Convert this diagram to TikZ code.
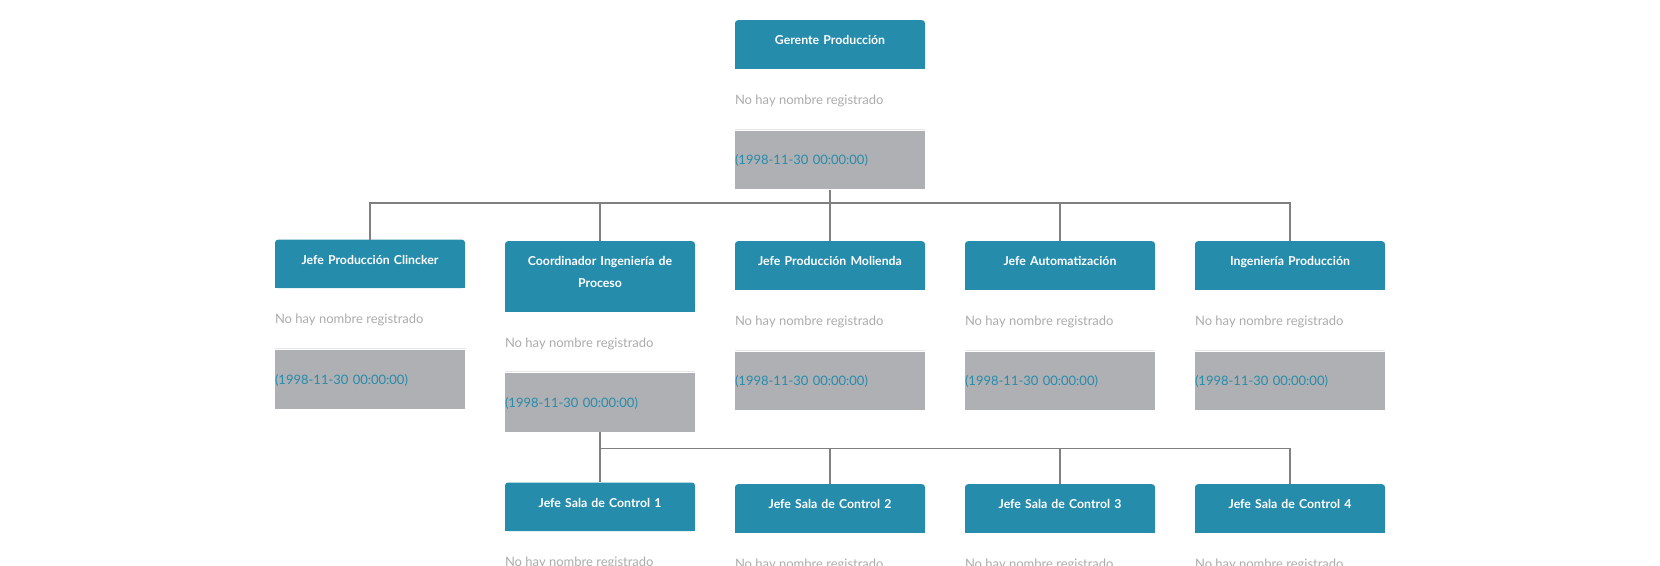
\documentclass[tikz,border=0pt]{standalone}
\usepackage{fontspec}
\setmainfont{Lato}
\usetikzlibrary{positioning}
\definecolor{azulcargo}{HTML}{268CAC}
\definecolor{grisfecha}{HTML}{AFB0B4}
\definecolor{grisnombre}{HTML}{ABABAB}
\definecolor{grislinea}{HTML}{808080}
\definecolor{grissep}{HTML}{E6E6E6}
\tikzset{
  cargo/.style={fill=azulcargo,text=white,rounded corners=3pt,font=\fontsize{12.3}{21.6}\selectfont\bfseries,
    text width=180pt,align=center,inner xsep=5pt,inner ysep=0pt,text height=24.5pt,text depth=24pt,anchor=north},
  nombre/.style={text=grisnombre,font=\fontsize{13}{15}\selectfont,inner sep=0pt,anchor=base west},
  fecha/.style={fill=grisfecha,text=azulcargo,font=\fontsize{13}{15}\selectfont,minimum height=58.7pt,
    text width=190pt,align=left,inner sep=0pt,text height=10pt,text depth=0.6pt,anchor=north},
  conector/.style={draw=grislinea,line width=1.5pt},
  sep/.style={draw=grissep,line width=1pt},
}
\begin{document}
\begin{tikzpicture}[x=1pt,y=-1pt]
  \useasboundingbox (0,0) rectangle (1660,565);
  % cargos
  \node[cargo] (gp) at (830,20) {Gerente Producción};
  \node[cargo] (clk) at (370,239.5) {Jefe Producción Clincker};
  \node[cargo,text depth=45.6pt] (ingproc) at (600,241) {Coordinador Ingeniería de\\Proceso};
  \node[cargo] (mol) at (830,241) {Jefe Producción Molienda};
  \node[cargo] (aut) at (1060,241) {Jefe Automatización};
  \node[cargo] (ingprod) at (1290,241) {Ingeniería Producción};
  \node[cargo] (sala1) at (600,482.3) {Jefe Sala de Control 1};
  \node[cargo] (sala2) at (830,484) {Jefe Sala de Control 2};
  \node[cargo] (sala3) at (1060,484) {Jefe Sala de Control 3};
  \node[cargo] (sala4) at (1290,484) {Jefe Sala de Control 4};
  \foreach \n in {gp,clk,ingproc,mol,aut,ingprod,sala1,sala2,sala3,sala4}
    \fill[azulcargo] (\n.south west) rectangle ([yshift=4pt]\n.south east);
  % nombres
  \foreach \n in {gp,clk,ingproc,mol,aut,ingprod,sala1,sala2,sala3,sala4}
    \node[nombre] (\n-n) at ([yshift=-35.5pt]\n.south west) {No hay nombre registrado};
  % fechas
  \foreach \n in {gp,clk,ingproc,mol,aut,ingprod}{
    \node[fecha] (\n-f) at ([yshift=-61.5pt]\n.south) {(1998-11-30 00:00:00)};
    \draw[sep] ([yshift=1.3pt]\n-f.north west) -- ([yshift=1.3pt]\n-f.north east);
  }
  % conectores
  \draw[conector] (gp-f.south) -- ++(0,13.6) -| (clk.north);
  \draw[conector] (gp-f.south) -- ++(0,13.6) -| (ingproc.north);
  \draw[conector] (gp-f.south) -- (mol.north);
  \draw[conector] (gp-f.south) -- ++(0,13.6) -| (aut.north);
  \draw[conector] (gp-f.south) -- ++(0,13.6) -| (ingprod.north);
  \draw[conector] (ingproc-f.south) -- (sala1.north);
  \draw[conector] (ingproc-f.south) -- ++(0,16.4) -| (sala2.north);
  \draw[conector] (ingproc-f.south) -- ++(0,16.4) -| (sala3.north);
  \draw[conector] (ingproc-f.south) -- ++(0,16.4) -| (sala4.north);
\end{tikzpicture}
\end{document}
